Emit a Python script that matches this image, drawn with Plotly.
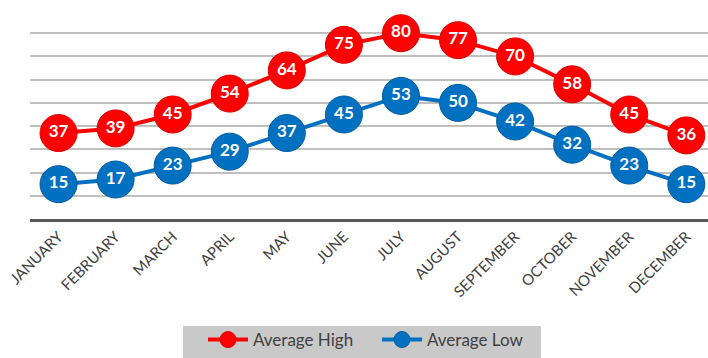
import plotly.graph_objects as go

months = ["JANUARY", "FEBRUARY", "MARCH", "APRIL", "MAY", "JUNE", "JULY",
          "AUGUST", "SEPTEMBER", "OCTOBER", "NOVEMBER", "DECEMBER"]
avg_high = [37, 39, 45, 54, 64, 75, 80, 77, 70, 58, 45, 36]
avg_low = [15, 17, 23, 29, 37, 45, 53, 50, 42, 32, 23, 15]

FONT = "Lato"
x = list(range(len(months)))

fig = go.Figure()
for name, vals, col, edge in [("Average High", avg_high, "#FF0000", "#E00000"),
                              ("Average Low", avg_low, "#0070C0", "#005C9E")]:
    fig.add_trace(go.Scatter(
        x=x, y=vals, name=name, mode="lines+markers+text",
        text=[str(v) for v in vals], textposition="middle center",
        textfont=dict(family=FONT, size=17, color="white", weight="bold"),
        line=dict(color=col, width=4),
        marker=dict(size=37, color=col, line=dict(color=edge, width=1)),
    ))

# legend background box
fig.add_shape(type="rect", xref="paper", yref="paper",
              x0=(183 - 30) / 678, x1=(541 - 30) / 678,
              y0=(219 - 358) / 209, y1=(219 - 326) / 209,
              fillcolor="#C9C9C9", line=dict(width=0), layer="below")

fig.update_layout(
    width=708, height=358,
    margin=dict(l=30, r=0, t=10, b=139),
    paper_bgcolor="white", plot_bgcolor="white",
    showlegend=True,
    legend=dict(orientation="h", xref="container", yref="container",
                x=203 / 708, xanchor="left", y=-0.012, yanchor="bottom",
                bgcolor="rgba(0,0,0,0)", font=dict(family=FONT, size=17, color="#404040"),
                itemwidth=40, borderwidth=0, entrywidth=119,
                tracegroupgap=0),
    xaxis=dict(range=[-0.5, 11.38], tickmode="array", tickvals=x, ticktext=months,
               tickangle=-45, tickfont=dict(family=FONT, size=15, color="#404040"),
               showgrid=False, zeroline=False, showline=True,
               linecolor="#595959", linewidth=3, ticks=""),
    yaxis=dict(range=[0, 90], dtick=10, showticklabels=False,
               showgrid=True, gridcolor="#BFBFBF", gridwidth=2, zeroline=False),
)

fig.write_html("out.html")
